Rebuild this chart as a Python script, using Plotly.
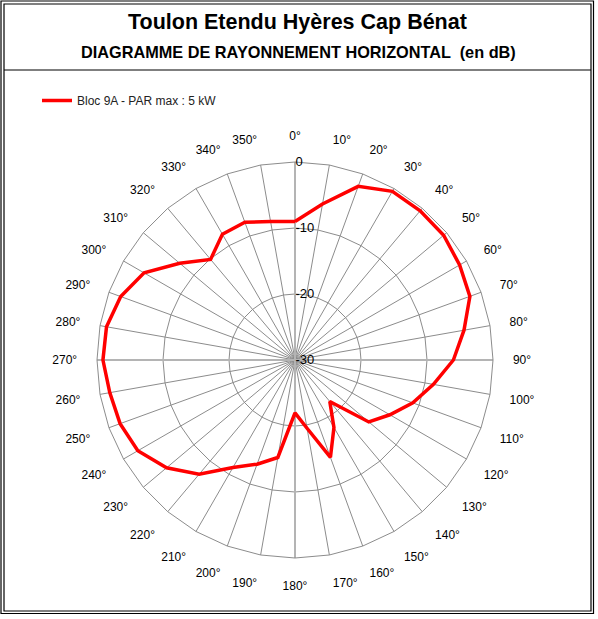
import plotly.graph_objects as go

angles = [f"{a}°" for a in range(0, 360, 10)]
gain_db = [-9, -6, -2, -0.5, -0.5, -0.6, -1.2, -1.8, -4, -6,
           -8.7, -11, -13.4, -15.4, -21.8, -18.2, -14.3, -19.5, -22, -15,
           -13.2, -11.2, -7.4, -4.6, -2.5, -1.8, -1.5, -0.9, -1.0, -1.9,
           -3.6, -7.2, -10.1, -8.0, -7.8, -8.7]
radial_ticks = [-30, -20, -10, 0]
series_name = "Bloc 9A - PAR max : 5 kW"
title_main = "Toulon Etendu Hyères Cap Bénat"
title_sub = "DIAGRAMME DE RAYONNEMENT HORIZONTAL  (en dB)"

FONT = "Liberation Sans, Arial, sans-serif"
W, H = 598, 619
cx, cy, R = 295, 360, 198

fig = go.Figure()

# Axis cross lines (0-180, 90-270)
for a, b in [("0°", "180°"), ("90°", "270°")]:
    fig.add_trace(go.Scatterpolar(
        r=[0, -30, 0], theta=[a, a, b], mode="lines",
        line=dict(color="#b4b4b4", width=2), showlegend=False, hoverinfo="skip"))

fig.add_trace(go.Scatterpolar(
    r=gain_db + gain_db[:1], theta=angles + angles[:1], mode="lines",
    line=dict(color="#ff0000", width=3.5), name=series_name))

fig.update_layout(
    width=W, height=H,
    margin=dict(l=0, r=0, t=0, b=0),
    paper_bgcolor="white", plot_bgcolor="white",
    font=dict(family=FONT, color="black", size=12),
    showlegend=True,
    legend=dict(x=37 / W, y=1 - 86 / H, xanchor="left", yanchor="top",
                bgcolor="rgba(0,0,0,0)", font=dict(size=12, color="#222")),
    polar=dict(
        domain=dict(x=[(cx - R) / W, (cx + R) / W], y=[1 - (cy + R) / H, 1 - (cy - R) / H]),
        bgcolor="white",
        gridshape="linear",
        angularaxis=dict(
            type="category", categoryarray=angles, direction="clockwise", rotation=90,
            showgrid=True, gridcolor="#8c8c8c", gridwidth=1,
            showline=True, linecolor="#8c8c8c", linewidth=1,
            ticks="outside", ticklen=17, tickcolor="rgba(0,0,0,0)",
            tickfont=dict(family=FONT, size=12, color="black")),
        radialaxis=dict(
            range=[-30, 0], tickvals=radial_ticks, ticktext=[str(v) for v in radial_ticks],
            angle=90, tickangle=90, side="clockwise", showline=False, ticks="",
            showgrid=True, gridcolor="#8c8c8c", gridwidth=1,
            tickfont=dict(family=FONT, size=13, color="black")),
    ),
    annotations=[
        dict(text=f"<b>{title_main}</b>", x=297 / W, y=1 - 22 / H, xref="paper", yref="paper",
             showarrow=False, font=dict(family=FONT, size=21.5, color="black"), xanchor="center", yanchor="middle"),
        dict(text=f"<b>{title_sub}</b>", x=298 / W, y=1 - 52 / H, xref="paper", yref="paper",
             showarrow=False, font=dict(family=FONT, size=16.3, color="black"), xanchor="center", yanchor="middle"),
    ],
    shapes=[
        dict(type="rect", xref="paper", yref="paper", x0=1 / W, x1=593.5 / W, y0=1 - 613.5 / H, y1=1 - 1 / H,
             line=dict(color="black", width=1.2)),
        dict(type="rect", xref="paper", yref="paper", x0=4 / W, x1=591 / W, y0=1 - 611 / H, y1=1 - 4 / H,
             line=dict(color="black", width=1.2)),
        dict(type="line", xref="paper", yref="paper", x0=4 / W, x1=591 / W, y0=1 - 70 / H, y1=1 - 70 / H,
             line=dict(color="black", width=1.2)),
    ],
)

fig.write_html("out.html", config={"displayModeBar": False},
               post_script="document.body.style.margin='0';document.body.style.overflow='hidden';")
